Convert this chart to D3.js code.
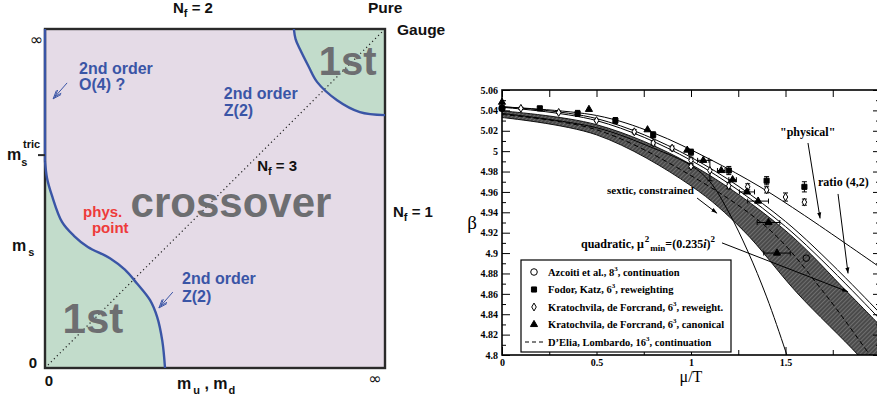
<!DOCTYPE html>
<html>
<head>
<meta charset="utf-8">
<script src="https://cdn.jsdelivr.net/npm/d3@7"></script>
<style>
body { margin: 0; background: #fff; }
svg { display: block; }
</style>
</head>
<body>
<svg width="877" height="400"></svg>
<script>
// ---- left panel: phase diagram (unit coordinates, 0..1 on each axis)
const lowerBoundary = [[0,0.61],[0.006,0.56],[0.02,0.51],[0.05,0.431],[0.085,0.39],[0.126,0.357],[0.191,0.324],[0.235,0.29],[0.27,0.25],[0.309,0.2],[0.33,0.15],[0.345,0.08],[0.353,0]]
const upperBoundary = [[0.732,1],[0.737,0.97],[0.75,0.94],[0.775,0.89],[0.8,0.844],[0.859,0.79],[0.926,0.755],[1,0.746]]
const diagonal = [[0,0],[1,1]]
const msTric = 0.628
const arrowsLeft = [[[0.065,0.841],[0.024,0.794]], [[0.376,0.224],[0.335,0.177]]]

// ---- right panel: beta_c(mu/T)
const muTicks = [0, 0.5, 1, 1.5]
const muMinor = [0.25, 0.75, 1.25, 1.75, 2]
const betaTicks = [4.8, 4.82, 4.84, 4.86, 4.88, 4.9, 4.92, 4.94, 4.96, 4.98, 5, 5.02, 5.04, 5.06]
const betaMinor = [4.81, 4.83, 4.85, 4.87, 4.89, 4.91, 4.93, 4.95, 4.97, 4.99, 5.01, 5.03, 5.05]

const bandUpper = [[0,5.0395],[0.5,5.026],[1.0,4.987],[1.497,4.9225],[1.831,4.861],[2.0,4.829]]
const bandLower = [[0,5.033],[0.5,5.016],[1.0,4.966],[1.275,4.9225],[1.561,4.861],[1.884,4.8],[2.0,4.775]]
const dElia = [[0,5.036],[0.5,5.021],[1.0,4.976],[1.418,4.9225],[1.7,4.862],[1.947,4.8],[2.0,4.787]]
const sextic = [[0,5.037],[0.5,5.023],[0.8,5.003],[1.0,4.986],[1.1,4.970],[1.2,4.940],[1.3,4.902],[1.4,4.857],[1.5,4.804],[1.55,4.775]]
const ratioA = [[0,5.043],[0.5,5.030],[1.0,4.991],[1.5,4.926],[2.0,4.835]]
const ratioB = [[0,5.0435],[0.5,5.032],[1.0,4.994],[1.5,4.931],[2.0,4.841]]
const physical = [[0,5.0435],[0.5,5.035],[0.8,5.018],[1.1,4.992],[1.365,4.965],[1.6,4.937],[2.0,4.886]]

// [mu, beta, betaErr, muErr]
const azcoiti = [[0,5.042,0,0],[1.61,4.895,0,0]]
const fodorKatz = [[0,5.042,0.002,0],[0.2,5.042,0.002,0],[0.4,5.037,0.003,0],[0.6,5.030,0.003,0],[0.8,5.016,0.003,0],[1.0,4.999,0.003,0],[1.2,4.981,0.004,0],[1.4,4.971,0.004,0],[1.6,4.965,0.005,0]]
const krReweight = [[0.1,5.042,0.001,0],[0.3,5.038,0.001,0],[0.5,5.030,0.001,0],[0.7,5.019,0.002,0],[0.8,5.008,0.002,0],[0.9,5.003,0.002,0],[1.0,4.991,0.003,0],[1.0,4.985,0.002,0],[1.1,4.981,0.010,0],[1.2,4.966,0.003,0],[1.3,4.965,0.003,0],[1.4,4.962,0.003,0],[1.5,4.955,0.004,0],[1.6,4.950,0.003,0]]
const krCanonical = [[0,5.048,0,0],[0.46,5.041,0,0],[0.77,5.021,0,0],[0.98,5.001,0,0],[1.065,4.991,0,0.03],[1.16,4.981,0,0.02],[1.22,4.972,0,0.02],[1.296,4.960,0,0.04],[1.355,4.951,0,0.055],[1.41,4.930,0,0.06],[1.455,4.900,0,0.07]]

const legendLabels = ["Azcoiti et al., 8|3|, continuation", "Fodor, Katz, 6|3|, reweighting",
  "Kratochvila, de Forcrand, 6|3|, reweight.", "Kratochvila, de Forcrand, 6|3|, canonical",
  "D\u2019Elia, Lombardo, 16|3|, continuation"]

const sans = '"Liberation Sans", Arial, Helvetica, sans-serif'
const serif = '"Liberation Serif", "Times New Roman", serif'
const blue = "#3a55a6"
const green = "#c2dccb"
const gray = "#6d6e71"

const svg = d3.select("svg")

//==== left panel
const lx = d3.scaleLinear().domain([0, 1]).range([45, 385])
const ly = d3.scaleLinear().domain([0, 1]).range([368, 29])
const lline = d3.line().x(d => lx(d[0])).y(d => ly(d[1])).curve(d3.curveCatmullRom)

const left = svg.append("g")
left.append("rect")
  .attr("x", lx(0)).attr("y", ly(1))
  .attr("width", lx(1) - lx(0)).attr("height", ly(0) - ly(1))
  .attr("fill", "#e5dbe7")

left.append("path")
  .attr("d", lline(lowerBoundary) + "L" + lx(0) + "," + ly(0) + "Z")
  .attr("fill", green)
left.append("path")
  .attr("d", lline(upperBoundary) + "L" + lx(1) + "," + ly(1) + "Z")
  .attr("fill", green)

left.append("path")
  .attr("d", d3.line().x(d => lx(d[0])).y(d => ly(d[1]))(diagonal))
  .attr("stroke", "#222").attr("stroke-width", 1.2)
  .attr("stroke-dasharray", "1.2,3").attr("fill", "none")

left.append("rect")
  .attr("x", lx(0)).attr("y", ly(1))
  .attr("width", lx(1) - lx(0)).attr("height", ly(0) - ly(1))
  .attr("fill", "none").attr("stroke", "#2a2a2a").attr("stroke-width", 2.4)

// blue 2nd-order lines
left.append("line")
  .attr("x1", lx(0)).attr("x2", lx(0)).attr("y1", ly(1)).attr("y2", ly(lowerBoundary[0][1]))
  .attr("stroke", blue).attr("stroke-width", 2.4)
left.selectAll(".bnd")
  .data([lowerBoundary, upperBoundary])
  .enter().append("path")
  .attr("d", lline)
  .attr("fill", "none").attr("stroke", blue).attr("stroke-width", 2.4)

// little arrows
arrowsLeft.forEach(function (a) {
  const x1 = lx(a[0][0]), y1 = ly(a[0][1]), x2 = lx(a[1][0]), y2 = ly(a[1][1])
  const ang = Math.atan2(y2 - y1, x2 - x1)
  const g = left.append("g").attr("stroke", blue).attr("stroke-width", 1).attr("fill", "none")
  g.append("line").attr("x1", x1).attr("y1", y1).attr("x2", x2).attr("y2", y2)
  ;[0.35, -0.35].forEach(function (da) {
    g.append("line").attr("x1", x2).attr("y1", y2)
      .attr("x2", x2 - 9 * Math.cos(ang + da)).attr("y2", y2 - 9 * Math.sin(ang + da))
    g.append("line").attr("x1", x2 - 3 * Math.cos(ang)).attr("y1", y2 - 3 * Math.sin(ang))
      .attr("x2", x2 - 3 * Math.cos(ang) - 7 * Math.cos(ang + da)).attr("y2", y2 - 3 * Math.sin(ang) - 7 * Math.sin(ang + da))
  })
})

function ltext(u, v, str, size, fill, anchor) {
  return left.append("text")
    .attr("x", lx(u)).attr("y", ly(v))
    .attr("font-family", sans).attr("font-weight", "bold")
    .attr("font-size", size).attr("fill", fill)
    .attr("text-anchor", anchor || "start")
    .text(str)
}

ltext(0.547, 0.444, "crossover", 42, gray, "middle")
ltext(0.89, 0.864, "1st", 40, gray, "middle")
ltext(0.141, 0.103, "1st", 42, gray, "middle")
ltext(0.1, 0.867, "2nd order", 16, blue)
ltext(0.1, 0.82, "O(4) ?", 16, blue)
ltext(0.526, 0.794, "2nd order", 16, blue)
ltext(0.526, 0.743, "Z(2)", 16, blue)
ltext(0.403, 0.248, "2nd order", 16, blue)
ltext(0.403, 0.195, "Z(2)", 16, blue)
ltext(0.112, 0.445, "phys.", 15, "#ee3a3a")
ltext(0.138, 0.398, "point", 15, "#ee3a3a")

function nf(xp, yp, n) {
  const t = left.append("text").attr("x", xp).attr("y", yp)
    .attr("font-family", sans).attr("font-weight", "bold").attr("font-size", 15).attr("fill", "#111")
  t.append("tspan").text("N")
  t.append("tspan").attr("font-size", 11).attr("dy", 4).text("f")
  t.append("tspan").attr("dy", -4).text(" = " + n)
}
nf(lx(0.624), ly(0.58), 3)
nf(173, 13, 2)
nf(393, 217, 1)

left.append("text").attr("x", 368).attr("y", 13).attr("font-family", sans).attr("font-weight", "bold")
  .attr("font-size", 15.5).attr("fill", "#111").text("Pure")
left.append("text").attr("x", 397).attr("y", 35).attr("font-family", sans).attr("font-weight", "bold")
  .attr("font-size", 15.5).attr("fill", "#111").text("Gauge")

// axis labels of left panel
left.append("text").attr("x", lx(0) - 2).attr("y", ly(1) + 16).attr("text-anchor", "end")
  .attr("font-family", "DejaVu Sans").attr("font-size", 16).attr("fill", "#111").text("\u221e")
left.append("text").attr("x", lx(1) - 10).attr("y", ly(0) + 16).attr("text-anchor", "middle")
  .attr("font-family", "DejaVu Sans").attr("font-size", 16).attr("fill", "#111").text("\u221e")
left.append("text").attr("x", lx(0) - 8).attr("y", ly(0)).attr("text-anchor", "end")
  .attr("font-family", sans).attr("font-weight", "bold").attr("font-size", 15).attr("fill", "#111").text("0")
left.append("text").attr("x", lx(0) + 4).attr("y", ly(0) + 18).attr("text-anchor", "middle")
  .attr("font-family", sans).attr("font-weight", "bold").attr("font-size", 15).attr("fill", "#111").text("0")

left.append("line").attr("x1", lx(0) - 7).attr("x2", lx(0)).attr("y1", ly(msTric)).attr("y2", ly(msTric))
  .attr("stroke", "#2a2a2a").attr("stroke-width", 2)
const mt = left.append("text").attr("x", 7).attr("y", ly(msTric) + 5)
  .attr("font-family", sans).attr("font-weight", "bold").attr("font-size", 16).attr("fill", "#111")
mt.append("tspan").text("m")
mt.append("tspan").attr("font-size", 11).attr("dy", 6).text("s")
left.append("text").attr("x", 23).attr("y", ly(msTric) - 7)
  .attr("font-family", sans).attr("font-weight", "bold").attr("font-size", 11).attr("fill", "#111").text("tric")

const ms = left.append("text").attr("x", 12).attr("y", 251)
  .attr("font-family", sans).attr("font-weight", "bold").attr("font-size", 16).attr("fill", "#111")
ms.append("tspan").text("m")
ms.append("tspan").attr("font-size", 11).attr("dy", 5).attr("dx", 2).text("s")

const mud = left.append("text").attr("x", 177).attr("y", 389)
  .attr("font-family", sans).attr("font-weight", "bold").attr("font-size", 16).attr("fill", "#111")
mud.append("tspan").text("m")
mud.append("tspan").attr("font-size", 11).attr("dy", 5).attr("dx", 2).text("u")
mud.append("tspan").attr("dy", -5).text(" , m")
mud.append("tspan").attr("font-size", 11).attr("dy", 5).attr("dx", 1).text("d")

//==== right panel
const x = d3.scaleLinear().domain([0, 2]).range([502, 880])
const y = d3.scaleLinear().domain([4.8, 5.06]).range([355, 90])
const rline = d3.line().x(d => x(d[0])).y(d => y(d[1])).curve(d3.curveCatmullRom)

const defs = svg.append("defs")
const pat = defs.append("pattern").attr("id", "hatch").attr("patternUnits", "userSpaceOnUse")
  .attr("width", 3).attr("height", 3).attr("patternTransform", "rotate(45)")
pat.append("rect").attr("width", 3).attr("height", 3).attr("fill", "#4a4a4a")
pat.append("line").attr("x1", 0).attr("y1", 0).attr("x2", 0).attr("y2", 3)
  .attr("stroke", "#939393").attr("stroke-width", 1)
defs.append("clipPath").attr("id", "plotclip").append("rect")
  .attr("x", x(0)).attr("y", y(5.06)).attr("width", x(2) - x(0)).attr("height", y(4.8) - y(5.06))
defs.append("marker").attr("id", "ah").attr("viewBox", "0 0 10 10")
  .attr("refX", 10).attr("refY", 5).attr("markerWidth", 6).attr("markerHeight", 6)
  .attr("orient", "auto").append("path").attr("d", "M0,1.5L10,5L0,8.5Z").attr("fill", "#000")

const right = svg.append("g")
const plot = right.append("g").attr("clip-path", "url(#plotclip)")

// hatched band
const bandPath = rline(bandUpper) + "L" + rline(bandLower.slice().reverse()).slice(1) + "Z"
plot.append("path").attr("d", bandPath).attr("fill", "url(#hatch)")
plot.selectAll(".edge").data([bandUpper, bandLower]).enter().append("path")
  .attr("d", rline).attr("fill", "none").attr("stroke", "#000").attr("stroke-width", 0.9)
plot.append("path").attr("d", rline(dElia)).attr("fill", "none")
  .attr("stroke", "#000").attr("stroke-width", 1).attr("stroke-dasharray", "5,3")
plot.append("path").attr("d", rline(sextic)).attr("fill", "none")
  .attr("stroke", "#000").attr("stroke-width", 1)

plot.selectAll(".wl").data([ratioA, ratioB]).enter().append("path")
  .attr("d", rline).attr("fill", "none").attr("stroke", "#fff").attr("stroke-width", 3.5)
plot.selectAll(".bl").data([ratioA, ratioB, physical]).enter().append("path")
  .attr("d", rline).attr("fill", "none").attr("stroke", "#000").attr("stroke-width", 1)

// error bars
function errorBars(data) {
  const g = right.append("g").attr("stroke", "#000").attr("stroke-width", 1)
  data.forEach(function (d) {
    if (d[2] > 0) {
      g.append("line").attr("x1", x(d[0])).attr("x2", x(d[0])).attr("y1", y(d[1] - d[2])).attr("y2", y(d[1] + d[2]))
      ;[d[1] - d[2], d[1] + d[2]].forEach(b => g.append("line")
        .attr("x1", x(d[0]) - 2.5).attr("x2", x(d[0]) + 2.5).attr("y1", y(b)).attr("y2", y(b)))
    }
    if (d[3] > 0) {
      g.append("line").attr("y1", y(d[1])).attr("y2", y(d[1])).attr("x1", x(d[0] - d[3])).attr("x2", x(d[0] + d[3]))
      ;[d[0] - d[3], d[0] + d[3]].forEach(m => g.append("line")
        .attr("y1", y(d[1]) - 2.5).attr("y2", y(d[1]) + 2.5).attr("x1", x(m)).attr("x2", x(m)))
    }
  })
}
errorBars(fodorKatz)
errorBars(krReweight)
errorBars(krCanonical)

const symCircle = d3.symbol().type(d3.symbolCircle).size(34)
const symSquare = d3.symbol().type(d3.symbolSquare).size(26)
const symDiamond = d3.symbol().type(d3.symbolDiamond).size(18)
const symTriangle = d3.symbol().type(d3.symbolTriangle).size(22)

function markers(data, sym, fill) {
  right.append("g").selectAll("path").data(data).enter().append("path")
    .attr("d", sym)
    .attr("transform", d => "translate(" + x(d[0]) + "," + y(d[1]) + ")")
    .attr("fill", fill).attr("stroke", "#000").attr("stroke-width", 1)
}
markers(fodorKatz, symSquare, "#000")
markers(krReweight, symDiamond, "#fff")
markers(krCanonical, symTriangle, "#000")
markers(azcoiti, symCircle, "none")

// axes
function styleAxis(g) {
  g.select(".domain").remove()
  g.selectAll("text").attr("font-family", serif).attr("font-weight", "bold").attr("font-size", 10).attr("fill", "#000")
}
right.append("g").attr("transform", "translate(0," + y(4.8) + ")")
  .call(d3.axisBottom(x).tickValues(muTicks).tickSize(-8).tickPadding(4).tickFormat(d3.format(""))).call(styleAxis)
right.append("g").attr("transform", "translate(0," + y(4.8) + ")")
  .call(d3.axisBottom(x).tickValues(muMinor).tickSize(-5).tickFormat("")).call(styleAxis)
right.append("g").attr("transform", "translate(0," + y(5.06) + ")")
  .call(d3.axisTop(x).tickValues(muTicks.concat(muMinor)).tickSize(-7).tickFormat("")).call(styleAxis)
right.append("g").attr("transform", "translate(" + x(0) + ",0)")
  .call(d3.axisLeft(y).tickValues(betaTicks).tickSize(-8).tickPadding(4).tickFormat(d3.format(""))).call(styleAxis)
right.append("g").attr("transform", "translate(" + x(0) + ",0)")
  .call(d3.axisLeft(y).tickValues(betaMinor).tickSize(-4).tickFormat("")).call(styleAxis)
right.append("g").attr("transform", "translate(" + x(2) + ",0)")
  .call(d3.axisRight(y).tickValues(betaTicks).tickSize(-7).tickFormat("")).call(styleAxis)
right.append("g").attr("transform", "translate(" + x(2) + ",0)")
  .call(d3.axisRight(y).tickValues(betaMinor).tickSize(-4).tickFormat("")).call(styleAxis)

right.append("rect").attr("x", x(0)).attr("y", y(5.06))
  .attr("width", x(2) - x(0)).attr("height", y(4.8) - y(5.06))
  .attr("fill", "none").attr("stroke", "#000").attr("stroke-width", 1.6)

right.append("text").attr("x", 472).attr("y", 229).attr("text-anchor", "middle")
  .attr("font-family", serif).attr("font-size", 19).text("\u03b2")
right.append("text").attr("x", x(1)).attr("y", 382).attr("text-anchor", "middle")
  .attr("font-family", serif).attr("font-size", 16).text("\u03bc/T")

// legend
const lg = right.append("g").attr("transform", "translate(521,260)")
lg.append("rect").attr("width", 210).attr("height", 92).attr("fill", "#fff")
  .attr("stroke", "#000").attr("stroke-width", 1.2)
const legendSyms = [[symCircle, "none"], [symSquare, "#000"], [symDiamond, "#fff"], [symTriangle, "#000"]]
legendLabels.forEach(function (lab, i) {
  const ry = 12 + i * 17.5
  if (i < 4) {
    lg.append("path").attr("d", legendSyms[i][0]).attr("transform", "translate(13," + ry + ")")
      .attr("fill", legendSyms[i][1]).attr("stroke", "#000").attr("stroke-width", 1)
  } else {
    lg.append("line").attr("x1", 4).attr("x2", 23).attr("y1", ry).attr("y2", ry)
      .attr("stroke", "#000").attr("stroke-dasharray", "4,3")
  }
  const parts = lab.split("|")
  const t = lg.append("text").attr("x", 27).attr("y", ry + 3.5)
    .attr("font-family", serif).attr("font-weight", "bold").attr("font-size", 10.5)
  t.append("tspan").text(parts[0])
  t.append("tspan").attr("font-size", 7).attr("dy", -5).text(parts[1])
  t.append("tspan").attr("dy", 5).text(parts[2])
})

// annotations
function note(mu, beta, str, size) {
  return right.append("text").attr("x", x(mu)).attr("y", y(beta))
    .attr("font-family", serif).attr("font-weight", "bold").attr("font-size", size || 11.5).text(str)
}
note(1.471, 5.015, "\"physical\"", 12)
note(1.672, 4.966, "ratio (4,2)", 12)
note(0.556, 4.958, "sextic, constrained", 11)
const q = note(0.418, 4.905, "quadratic, \u03bc", 12)
q.append("tspan").attr("font-size", 9).attr("dy", -6).attr("dx", 1).text("2")
q.append("tspan").attr("font-size", 9).attr("dy", 9).attr("dx", 1).text("min")
q.append("tspan").attr("dy", -3).text("=(0.235")
q.append("tspan").attr("font-style", "italic").text("i")
q.append("tspan").text(")")
q.append("tspan").attr("font-size", 9).attr("dy", -6).text("2")

const pointers = [[[1.619,5.008],[1.683,4.934]], [[1.778,4.958],[1.831,4.880]],
  [[1.032,4.954],[1.138,4.939]], [[1.164,4.910],[1.831,4.862]]]
right.selectAll(".ptr").data(pointers).enter().append("line")
  .attr("x1", d => x(d[0][0])).attr("y1", d => y(d[0][1]))
  .attr("x2", d => x(d[1][0])).attr("y2", d => y(d[1][1]))
  .attr("stroke", "#000").attr("stroke-width", 1).attr("marker-end", "url(#ah)")
</script>
</body>
</html>
